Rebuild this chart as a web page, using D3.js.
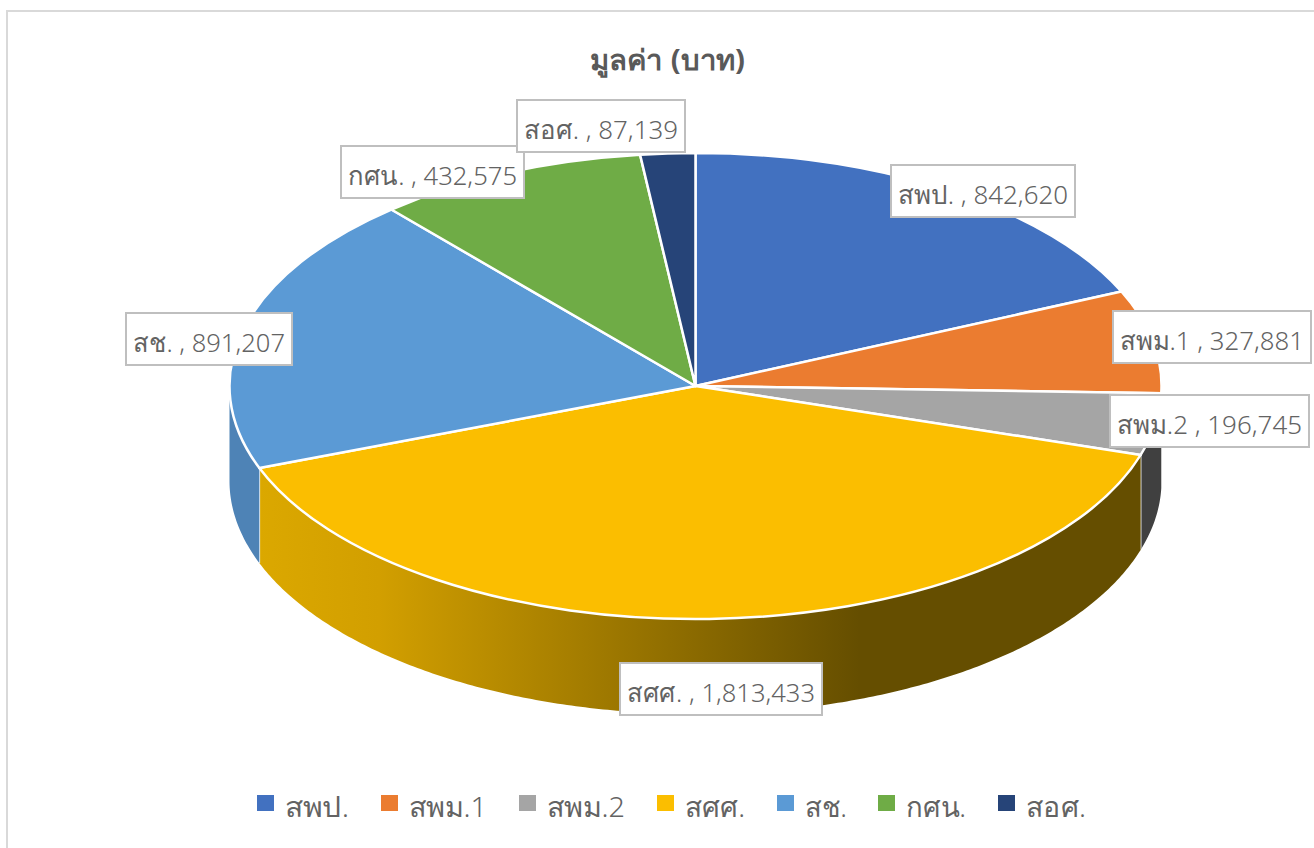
<!DOCTYPE html>
<html>
<head>
<meta charset="utf-8">
<script src="https://cdn.jsdelivr.net/npm/d3@7"></script>
<style>
	html, body { margin: 0; padding: 0; background: #fff; overflow: hidden; }
	text { font-family: "Noto Sans", "DejaVu Sans", sans-serif; fill: #636363; font-weight: 300; }
</style>
</head>
<body>
<svg id="viz"></svg>
<script>
// Values
const categories = ["สพป.", "สพม.1", "สพม.2", "สศศ.", "สช.", "กศน.", "สอศ."];
const values = [842620, 327881, 196745, 1813433, 891207, 432575, 87139];
const colors = ["#4271c0", "#eb7c30", "#a5a5a5", "#fbbe00", "#5b9ad5", "#6fac46", "#264478"];
const wallColors = ["#3a5f9f", "#a5561f", "#404040", "url(#wall-gold)", "#4e83b6", "#4e7a30", "#1a2f54"];
const title = "มูลค่า (บาท)";

// Top left corner of each data label box, in page pixels
const labelBoxes = [
	{x: 891, y: 165, w: 184},
	{x: 1113, y: 311, w: 198},
	{x: 1110, y: 395, w: 199},
	{x: 620, y: 663, w: 202},
	{x: 126, y: 313, w: 166},
	{x: 341, y: 146, w: 183},
	{x: 517, y: 100, w: 168}
];
const labelHeight = 52;

// Left edge of each legend swatch
const legendX = [257, 381, 519, 657, 777, 878, 998];
const legendTextW = [64, 78, 78, 60, 42, 60, 60];

const width = 1314;
const height = 848;
const cx = 695.5, cy = 386, rx = 466, ry = 233, depth = 95;

const svg = d3.select("svg#viz").attr("width", width).attr("height", height)
	.style("display", "block");

// chart frame
svg.append("rect")
	.attr("x", 7).attr("y", 11)
	.attr("width", width + 20).attr("height", height + 20)
	.attr("fill", "#fff").attr("stroke", "#d9d9d9").attr("stroke-width", 2);

const defs = svg.append("defs");
const gold = defs.append("linearGradient").attr("id", "wall-gold")
	.attr("gradientUnits", "userSpaceOnUse")
	.attr("x1", 258).attr("x2", 860).attr("y1", 0).attr("y2", 0);
gold.append("stop").attr("offset", 0).attr("stop-color", "#dba800");
gold.append("stop").attr("offset", 0.2).attr("stop-color", "#d29f00");
gold.append("stop").attr("offset", 1).attr("stop-color", "#654e00");

// unit circle to page
const px = d3.scaleLinear().domain([-1, 1]).range([cx - rx, cx + rx]);
const py = d3.scaleLinear().domain([-1, 1]).range([cy - ry, cy + ry]);

const slices = d3.pie().sort(null).value(d => d)(values);
slices.forEach((s, i) => s.index = i);

drawWalls();
drawTop();
drawLabels();
drawLegend();
drawTitle();

function drawWalls() {
	const wall = svg.append("g").attr("id", "walls");
	const line = d3.line();

	slices.forEach(function(s) {
		// only the front half of the rim can be seen
		const a0 = Math.max(s.startAngle, Math.PI / 2);
		const a1 = Math.min(s.endAngle, Math.PI * 1.5);
		if (a1 <= a0) return;

		const angles = d3.range(a0, a1, 0.01).concat([a1]);
		const top = angles.map(a => [px(Math.sin(a)), py(-Math.cos(a))]);
		const bottom = angles.slice().reverse().map(a => [px(Math.sin(a)), py(-Math.cos(a)) + depth]);

		wall.append("path")
			.attr("d", line(top.concat(bottom)) + "Z")
			.attr("fill", wallColors[s.index]);

		// white seam between two walls
		if (s.endAngle < Math.PI * 1.5) {
			wall.append("line")
				.attr("x1", px(Math.sin(a1))).attr("x2", px(Math.sin(a1)))
				.attr("y1", py(-Math.cos(a1))).attr("y2", py(-Math.cos(a1)) + depth)
				.attr("stroke", "#fff").attr("stroke-width", 1.5);
		}
	});
}

function drawTop() {
	const arc = d3.arc().innerRadius(0).outerRadius(rx);
	const top = svg.append("g").attr("id", "top")
		.attr("transform", "translate(" + cx + "," + cy + ") scale(1," + (ry / rx) + ")");

	top.selectAll("path")
		.data(slices)
		.join("path")
		.attr("d", arc)
		.attr("fill", d => colors[d.index])
		.attr("stroke", "#fff")
		.attr("stroke-width", 2.5)
		.attr("stroke-linejoin", "round")
		.attr("vector-effect", "non-scaling-stroke");
}

function drawLabels() {
	const fmt = d3.format(",");
	const label = svg.append("g").attr("id", "labels").selectAll("g")
		.data(slices)
		.join("g")
		.attr("transform", d => "translate(" + labelBoxes[d.index].x + "," + labelBoxes[d.index].y + ")");

	label.append("rect")
		.attr("width", d => labelBoxes[d.index].w)
		.attr("height", labelHeight)
		.attr("fill", "#fff")
		.attr("stroke", "#bfbfbf")
		.attr("stroke-width", 2);

	label.append("text")
		.attr("x", 7)
		.attr("y", 39)
		.attr("font-size", 26)
		.attr("textLength", d => labelBoxes[d.index].w - 14)
		.attr("lengthAdjust", "spacingAndGlyphs")
		.text(d => categories[d.index] + " , " + fmt(values[d.index]));
}

function drawLegend() {
	const legend = svg.append("g").attr("id", "legend").selectAll("g")
		.data(categories)
		.join("g")
		.attr("transform", (d, i) => "translate(" + legendX[i] + ",795)");

	legend.append("rect")
		.attr("width", 17).attr("height", 16)
		.attr("fill", (d, i) => colors[i]);

	legend.append("text")
		.attr("x", 28)
		.attr("y", 22)
		.attr("font-size", 28)
		.attr("textLength", (d, i) => legendTextW[i])
		.attr("lengthAdjust", "spacingAndGlyphs")
		.text(d => d);
}

function drawTitle() {
	svg.append("text")
		.attr("x", 590)
		.attr("y", 70)
		.attr("font-size", 28)
		.style("font-weight", "bold")
		.style("fill", "#595959")
		.attr("textLength", 155)
		.attr("lengthAdjust", "spacingAndGlyphs")
		.text(title);
}
</script>
</body>
</html>
